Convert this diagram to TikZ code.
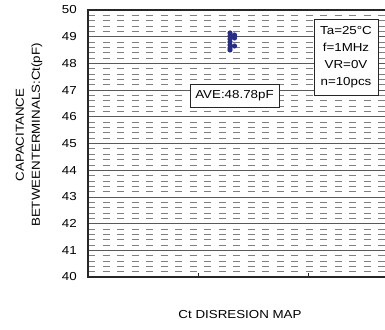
\documentclass[tikz,border=0pt]{standalone}
\usepackage{fontspec}
\setmainfont{Liberation Sans}[FakeStretch=1.15]
\usetikzlibrary{positioning}

\definecolor{dotblue}{RGB}{38,44,135}

\begin{document}
\begin{tikzpicture}[
    x = 1pt, y = 26.7pt,
    txt/.style = {inner sep = 0pt, font = \fontsize{11.6}{17}\selectfont},
    grid/.style = {black!65, line width = .7pt},
    subgrid/.style = {gray, line width = .7pt, dash pattern = on 7pt off 7.5pt},
    frame/.style = {black!85, line width = 1.4pt},
    infobox/.style = {
      draw, black!85, line width = .8pt, fill = white, text = black,
      txt, align = center,
    },
    meas/.style = {
      circle, fill = dotblue, inner sep = 0pt,
      minimum size = 5.2pt,
    },
  ]
  \useasboundingbox[fill = white] (0,38.05) rectangle (385,50.375);

  % dashed sub grid, every 0.2 pF
  \foreach \v in {40,...,49} {
    \foreach \s in {.2,.4,.6,.8}
      \draw[subgrid] (88,\v+\s) -- (385,\v+\s);
  }
  % solid grid, every 1 pF
  \foreach \v in {41,...,49}
    \draw[grid] (88,\v) -- (385,\v);

  \draw[frame] (385,50) -- (88,50) -- (88,40) -- (385,40);
  \foreach \x in {198,308}
    \draw[black!85, line width = .7pt] (\x,40) -- ++(0,4pt);

  % axis numbers
  \foreach \v in {40,...,50}
    \node[txt, anchor = east] (num\v) at (77,\v) {\v};

  \node[txt, rotate = 90] (ylabA) at (20,45.32) {CAPACITANCE};
  \node[txt, rotate = 90] (ylabB) at (37,45.32) {BETWEENTERMINALS:Ct(pF)};
  \node[txt] (title) at (240,38.577) {Ct DISRESION MAP};

  % measured samples (x, y in px)
  \foreach \x/\y [count = \i] in {230/33, 230/36, 230/39, 230/42, 230/45,
      230/48, 230/50, 234.5/35, 234.5/38, 234.5/46}
    \node[meas] (p\i) at (\x,{50-(\y-10)/26.7}) {};

  \node[infobox, minimum width = 89pt, minimum height = 23pt]
    (ave) at (234.5,46.8) {AVE:48.78pF};
  \node[infobox, minimum width = 64pt, minimum height = 76pt]
    (cond) at (346,48.24) {Ta=25°C\\f=1MHz\\VR=0V\\n=10pcs};
\end{tikzpicture}
\end{document}
